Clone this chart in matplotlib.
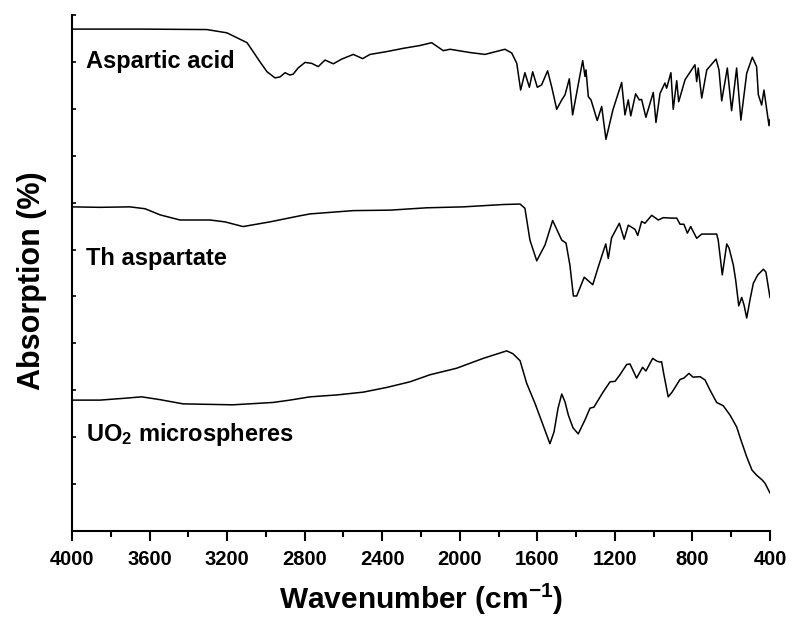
import matplotlib
matplotlib.use('Agg')
import matplotlib.pyplot as plt
from matplotlib.ticker import MultipleLocator
import numpy as np

plt.rcParams['font.family'] = ['Liberation Sans', 'DejaVu Sans']
plt.rcParams['font.weight'] = 'bold'
plt.rcParams['mathtext.fontset'] = 'custom'
plt.rcParams['mathtext.rm'] = 'Liberation Sans:bold'
plt.rcParams['mathtext.it'] = 'Liberation Sans:bold'
plt.rcParams['mathtext.bf'] = 'Liberation Sans:bold'

# Espectros FTIR (numero de onda, absorcion en unidades arbitrarias)
asp_wn = [4000, 3649, 3304, 3201, 3097, 3030, 2994, 2953, 2927, 2901, 2876, 2859, 2834,
          2798, 2764, 2730, 2695, 2652, 2609, 2549, 2501, 2463, 2377, 2291, 2205, 2145,
          2085, 2050, 1947, 1870, 1767, 1732, 1706, 1686, 1664, 1641, 1624, 1600, 1578,
          1547, 1526, 1500, 1474, 1457, 1435, 1418, 1366, 1354, 1349, 1337, 1323, 1291,
          1268, 1246, 1210, 1165, 1148, 1131, 1118, 1093, 1074, 1062, 1040, 1002, 988,
          967, 942, 933, 911, 899, 881, 871, 838, 787, 778, 770, 752, 726, 678, 663, 649,
          620, 598, 572, 550, 520, 491, 469, 460, 443, 431, 405, 400]
asp_abs = [10.70, 10.70, 10.69, 10.62, 10.41, 10.00, 9.79, 9.66, 9.68, 9.77, 9.72, 9.74, 9.87,
           9.99, 9.97, 9.90, 10.04, 9.96, 10.06, 10.16, 10.07, 10.16, 10.22, 10.29, 10.35, 10.41,
           10.24, 10.27, 10.20, 10.16, 10.27, 10.19, 9.97, 9.40, 9.77, 9.46, 9.79, 9.46, 9.51,
           9.81, 9.47, 8.99, 9.19, 9.30, 9.64, 8.87, 10.03, 9.69, 9.83, 9.26, 9.19, 8.75,
           9.05, 8.35, 8.98, 9.56, 8.87, 9.19, 8.85, 9.32, 9.19, 9.20, 8.82, 9.35, 8.71,
           9.33, 9.55, 9.44, 9.77, 8.99, 9.60, 9.15, 9.62, 9.94, 9.58, 9.87, 9.23, 9.83, 10.06, 9.83, 9.17,
           9.87, 8.96, 9.87, 8.76, 9.76, 10.10, 9.90, 9.30, 9.08, 9.40, 8.64, 8.77]

th_wn = [4000, 3856, 3701, 3623, 3546, 3443, 3288, 3211, 3118, 2979, 2824, 2772, 2549, 2360,
         2171, 1982, 1776, 1689, 1664, 1638, 1603, 1560, 1521, 1474, 1452, 1432, 1414, 1397,
         1358, 1314, 1287, 1263, 1247, 1234, 1217, 1177, 1152, 1131, 1096, 1082, 1062, 1045,
         1010, 976, 950, 907, 881, 864, 844, 826, 809, 778, 752, 675, 667, 646, 623, 611, 589,
         577, 561, 546, 534, 520, 503, 486, 463, 434, 421, 400]
th_abs = [6.91, 6.90, 6.91, 6.87, 6.74, 6.63, 6.63, 6.59, 6.49, 6.59, 6.72, 6.76, 6.83, 6.84,
          6.89, 6.91, 6.96, 6.97, 6.88, 6.20, 5.76, 6.10, 6.62, 6.20, 6.14, 5.67, 5.01, 5.01,
          5.41, 5.25, 5.61, 5.92, 6.12, 5.81, 6.25, 6.56, 6.22, 6.52, 6.43, 6.30, 6.60, 6.56,
          6.73, 6.63, 6.68, 6.67, 6.67, 6.54, 6.54, 6.35, 6.49, 6.24, 6.33, 6.33, 6.20, 5.46, 6.12, 6.03, 5.67,
          5.35, 4.80, 4.98, 4.82, 4.54, 4.93, 5.28, 5.46, 5.58, 5.52, 4.98]

uo2_wn = [4000, 3856, 3727, 3641, 3546, 3427, 3170, 2963, 2876, 2772, 2635, 2498, 2377, 2257,
          2154, 2016, 1879, 1758, 1726, 1689, 1655, 1612, 1576, 1535, 1514, 1493, 1474, 1457,
          1440, 1416, 1389, 1354, 1328, 1308, 1261, 1225, 1199, 1174, 1139, 1122, 1088, 1057,
          1040, 1005, 983, 967, 959, 947, 925, 905, 864, 844, 818, 797, 761, 735, 710, 675,
          641, 606, 572, 550, 520, 493, 469, 441, 426, 400]
uo2_abs = [2.79, 2.79, 2.83, 2.86, 2.80, 2.71, 2.69, 2.74, 2.79, 2.86, 2.90, 2.96, 3.06, 3.18,
           3.33, 3.47, 3.68, 3.84, 3.78, 3.63, 3.15, 2.72, 2.32, 1.86, 2.11, 2.62, 2.92, 2.75,
           2.47, 2.20, 2.07, 2.37, 2.62, 2.64, 2.96, 3.18, 3.19, 3.33, 3.55, 3.56, 3.26, 3.49,
           3.41, 3.68, 3.62, 3.60, 3.61, 3.33, 2.86, 2.96, 3.23, 3.26, 3.36, 3.28, 3.29, 3.22, 3.01, 2.74,
           2.67, 2.47, 2.22, 1.94, 1.58, 1.30, 1.19, 1.09, 1.02, 0.81]

nombres = ['Aspartic acid', 'Th aspartate', 'UO$_2$ microspheres']
pos_texto = [10.0, 5.80, 2.05]

fig = plt.figure(figsize=(7.92, 6.18), dpi=100)
ax = fig.add_axes([0.0909, 0.1408, 0.8813, 0.8349])

for wn, ab in [(asp_wn, asp_abs), (th_wn, th_abs), (uo2_wn, uo2_abs)]:
    ax.plot(wn, ab, color='black', lw=1.1)

for nombre, y in zip(nombres, pos_texto):
    ax.text(3928, y, nombre, fontsize=17, fontweight='bold', va='center', ha='left')

ax.set_xlim(4000, 400)
ax.set_ylim(0, 11)

# Ejes: solo izquierdo e inferior
ax.spines['top'].set_visible(False)
ax.spines['right'].set_visible(False)
ax.spines['left'].set_linewidth(1.5)
ax.spines['bottom'].set_linewidth(1.5)

ax.xaxis.set_major_locator(MultipleLocator(400))
ax.xaxis.set_minor_locator(MultipleLocator(200))
ax.yaxis.set_major_locator(MultipleLocator(1))
ax.tick_params(axis='x', which='major', direction='out', length=7, width=1.5, labelsize=14.5, pad=7)
ax.tick_params(axis='x', which='minor', direction='out', length=4, width=1.5)
ax.tick_params(axis='y', which='major', direction='in', length=3, width=1.2, labelleft=False)
for lbl in ax.get_xticklabels():
    lbl.set_fontweight('bold')

ax.set_xlabel('Wavenumber (cm$^{-1}$)', fontsize=21.5, fontweight='bold', labelpad=9)
ax.set_ylabel('Absorption (%)', fontsize=22, fontweight='bold')
ax.yaxis.set_label_coords(-0.036, 0.485)

plt.savefig('out.png', dpi=100)
